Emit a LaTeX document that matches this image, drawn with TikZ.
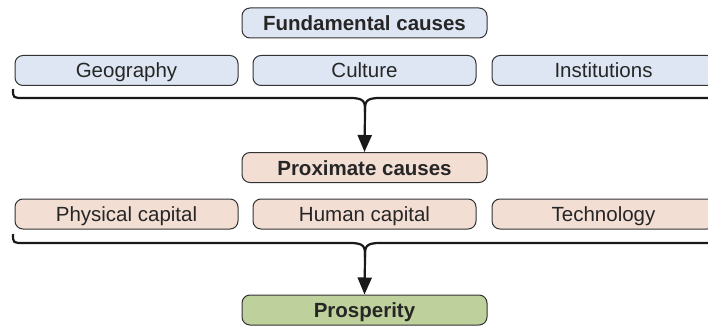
\documentclass[tikz,border=0pt]{standalone}
\usepackage{fontspec}
\setmainfont{Liberation Sans}
\usetikzlibrary{arrows.meta}
\definecolor{fblue}{RGB}{222,230,243}
\definecolor{fpink}{RGB}{243,222,212}
\definecolor{fgreen}{RGB}{190,208,155}
\definecolor{edge}{RGB}{50,50,50}
\begin{document}
\begin{tikzpicture}[x=1pt,y=-1pt,
  box/.style={draw=edge, line width=1pt, rounded corners=8pt, minimum width=223pt, minimum height=30pt, inner sep=0pt, text height=15pt, text depth=0pt, text=black!85, font=\fontsize{20.5}{24}\selectfont},
  head/.style={box, minimum width=245pt, font=\fontsize{20.5}{24}\selectfont\bfseries},
  brace/.style={draw=black!90, line width=2.2pt},
  arr/.style={brace, -{Triangle[length=17pt,width=14pt]}}]
\useasboundingbox (0,0) rectangle (708,326);
\clip (0,0) rectangle (708,326);
% row 1
\node[head, fill=fblue] (fund) at (364.5,23) {Fundamental causes};
\node[box, fill=fblue] (geo) at (126.5,70.5) {Geography};
\node[box, fill=fblue] (cul) at (364.5,70.5) {Culture};
\node[box, fill=fblue] (inst) at (603.5,70.5) {Institutions};
% row 2
\node[head, fill=fpink] (prox) at (364.5,167.5) {Proximate causes};
\node[box, fill=fpink] (phys) at (126.5,214) {Physical capital};
\node[box, fill=fpink] (hum) at (364.5,214) {Human capital};
\node[box, fill=fpink] (tech) at (603.5,214) {Technology};
% row 3
\node[head, fill=fgreen] (pros) at (364.5,310) {Prosperity};
% brace 1
\coordinate (t1) at (365,112);
\draw[brace] (13,89) .. controls (13,98) .. (24,98) -- (350,98) .. controls (365,98) and (365,102) .. (t1);
\draw[brace] (720,98) -- (380,98) .. controls (365,98) and (365,102) .. (t1);
\draw[arr] (t1) -- (prox.north);
% brace 2
\coordinate (t2) at (365,257);
\draw[brace] (13,234) .. controls (13,243) .. (24,243) -- (350,243) .. controls (365,243) and (365,247) .. (t2);
\draw[brace] (720,243) -- (380,243) .. controls (365,243) and (365,247) .. (t2);
\draw[arr] (t2) -- (pros.north);
\end{tikzpicture}
\end{document}
